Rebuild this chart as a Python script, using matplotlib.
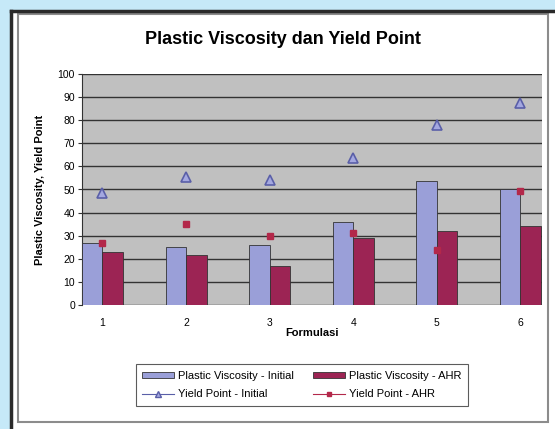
import numpy as np
import matplotlib.pyplot as plt
from matplotlib.lines import Line2D
from matplotlib.patches import Rectangle

# Data per formulation
formulasi = ["1", "2", "3", "4", "5", "6"]
pv_initial = [27, 25, 26, 36, 53.5, 50]
pv_ahr = [23, 21.5, 17, 29, 32, 34]
yp_initial = [48.5, 55.5, 54, 63.5, 78, 87.5]
yp_ahr = [27, 35, 30, 31, 24, 49.5]

c_blue = "#9a9fd8"
c_red = "#9c2454"
c_tri = "#5a5fa8"
c_sq = "#b3284a"

plt.rcParams["font.family"] = ["Liberation Sans", "DejaVu Sans"]

fig = plt.figure(figsize=(5.55, 4.29), dpi=100)
fig.patch.set_facecolor("#c6e9f8")

# Panel frame: white sheet with dark border on left and top
W, H = 555.0, 429.0
def fx(px):
    return px / W
def fy(py):
    return 1 - py / H

fig.patches.append(Rectangle((fx(10), 0), 1 - fx(10), fy(10), transform=fig.transFigure,
                             facecolor="white", edgecolor="none", zorder=-5))
fig.add_artist(Line2D([fx(10.5), fx(10.5)], [0, fy(10.5)], transform=fig.transFigure,
                      color="#2a2a2a", lw=2.5))
fig.add_artist(Line2D([fx(10.5), 1], [fy(10.5), fy(10.5)], transform=fig.transFigure,
                      color="#2a2a2a", lw=2.5))
fig.patches.append(Rectangle((fx(18), fy(422)), fx(548) - fx(18), fy(14) - fy(422),
                             transform=fig.transFigure, facecolor="none",
                             edgecolor="#8c8c8c", lw=1.5, zorder=-4))

ax = fig.add_axes([fx(82), fy(305), fx(542) - fx(82), fy(74) - fy(305)])
ax.set_facecolor("#c0c0c0")

x = np.arange(1, len(formulasi) + 1)
w = 0.245
ax.bar(x - w / 2, pv_initial, width=w, color=c_blue, edgecolor="#333333", lw=0.6, zorder=3)
ax.bar(x + w / 2, pv_ahr, width=w, color=c_red, edgecolor="#333333", lw=0.6, zorder=3)
ax.plot(x, yp_initial, linestyle="none", marker="^", ms=6.5, mfc="#a4a8e0",
        mec=c_tri, mew=1.2, zorder=4)
ax.plot(x, yp_ahr, linestyle="none", marker="s", ms=4, mfc=c_sq, mec=c_sq, zorder=4)

ax.set_xlim(0.755, 6.26)
ax.set_ylim(0, 100)
ax.set_yticks(np.arange(0, 101, 10))
ax.set_xticks(x)
ax.set_xticklabels(formulasi)
ax.yaxis.grid(True, color="#333333", lw=1.0, zorder=0)
ax.set_axisbelow(True)
for s in ["top", "right", "bottom"]:
    ax.spines[s].set_visible(False)
ax.spines["left"].set_color("#333333")
ax.tick_params(axis="y", labelsize=7.5, length=3, width=0.8, color="#333333", pad=2)
ax.tick_params(axis="x", labelsize=7.5, length=0, pad=9)

ax.set_xlabel("Formulasi", fontsize=8, fontweight="bold", labelpad=0)
ax.set_ylabel("Plastic Viscosity, Yield Point", fontsize=8, fontweight="bold", labelpad=9)

fig.text(fx(283), fy(39), "Plastic Viscosity dan Yield Point", ha="center", va="center",
         fontsize=13, fontweight="bold")

handles = [
    Rectangle((0, 0), 1, 1, facecolor=c_blue, edgecolor="#333333", lw=0.6),
    Line2D([], [], color=c_tri, lw=0.8, marker="^", ms=5, mfc="#a4a8e0", mec=c_tri),
    Rectangle((0, 0), 1, 1, facecolor=c_red, edgecolor="#333333", lw=0.6),
    Line2D([], [], color=c_sq, lw=0.8, marker="s", ms=2.5, mfc=c_sq, mec=c_sq),
]
labels = ["Plastic Viscosity - Initial", "Yield Point - Initial",
          "Plastic Viscosity - AHR", "Yield Point - AHR"]
leg = fig.legend(handles, labels, ncol=2, loc="center", bbox_to_anchor=(fx(302), fy(385)),
                 fontsize=8, frameon=True, fancybox=False, edgecolor="#333333",
                 handlelength=2.9, handleheight=0.45, columnspacing=1.7,
                 labelspacing=0.75, borderpad=0.6, handletextpad=0.35)
leg.get_frame().set_linewidth(0.8)

fig.savefig("out.png", dpi=100, facecolor=fig.get_facecolor())
